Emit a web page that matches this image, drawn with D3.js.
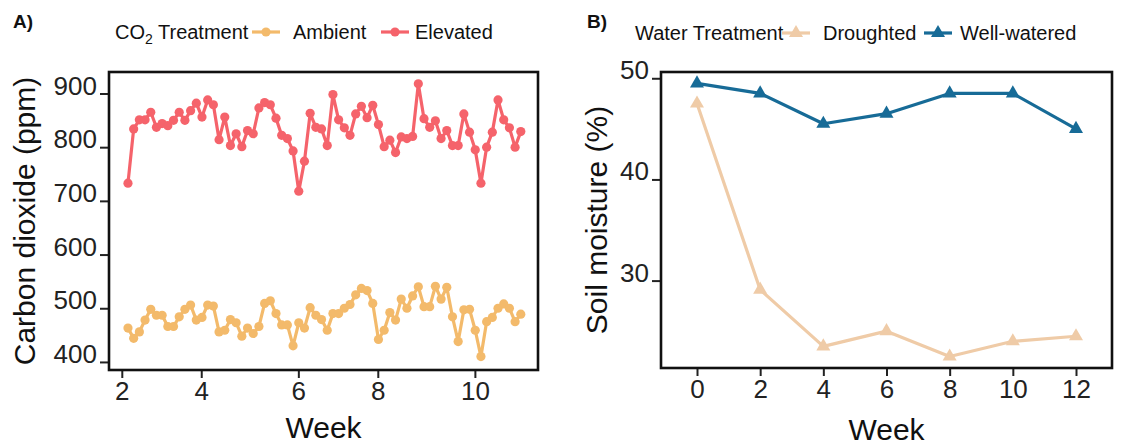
<!DOCTYPE html>
<html><head><meta charset="utf-8">
<script src="https://cdn.jsdelivr.net/npm/d3@7"></script>
<style>body{margin:0;background:#fff} svg{display:block} text{font-family:"Liberation Sans",Arial,Helvetica,sans-serif}</style>
</head><body><svg id="c" width="1139" height="448"></svg>
<script>
// ---------- Panel A data ----------
const co2SampleCount = 70;
const co2FirstWeek = 2.14, co2LastWeek = 11.04;
const ambient = [463,444,456,478,498,487,487,466,466,484,498,506,478,483,506,504,456,459,479,473,448,463,453,466,509,514,490,469,469,430,473,463,501,487,
  479,459,490,490,500,507,525,537,533,509,442,459,492,478,517,500,523,540,503,503,541,517,539,484,438,497,498,459,410,475,483,500,508,500,475,489];
const elevated = [733,834,851,851,865,837,844,840,850,865,850,868,882,856,888,879,814,856,803,825,801,831,825,873,883,879,854,822,816,793,718,774,863,837,
  834,803,898,851,836,822,862,876,855,878,842,801,813,790,819,816,820,918,853,837,849,816,831,803,803,862,828,795,733,800,828,888,851,836,800,829];
const co2Ticks = [400,500,600,700,800,900];
const weekTickPosA = [2,3.8,6,7.8,10];
const weekTickLabelsA = ["2","4","6","8","10"];
const co2Legend = ["Ambient","Elevated"];

// ---------- Panel B data ----------
const waterWeeks = [0,2,4,6,8,10,12];
const droughted = [47.5,29.1,23.5,25.0,22.5,24.0,24.5];
const wellWatered = [49.5,48.5,45.5,46.5,48.5,48.5,45.0];
const moistureTicks = [30,40,50];
const weekTicksB = [0,2,4,6,8,10,12];
const waterLegend = ["Droughted","Well-watered"];

const colAmbient = "#F3BA6B", colElevated = "#F5636B";
const colDrought = "#EFCBA7", colWell = "#176B97";

const co2Weeks = d3.range(co2SampleCount).map(i => co2FirstWeek + i*(co2LastWeek-co2FirstWeek)/(co2SampleCount-1));

const svg = d3.select("#c");
const tickFont = 26, titleFont = 30, legFont = 20;

function frame(g, P){
  g.append("rect").attr("x",P.l).attr("y",P.t).attr("width",P.r-P.l).attr("height",P.b-P.t)
   .attr("fill","none").attr("stroke","#111").attr("stroke-width",2.6);
}
function styleAxis(g){
  g.select(".domain").remove();
  g.selectAll(".tick line").attr("stroke","#222").attr("stroke-width",2);
  g.selectAll(".tick text").attr("fill","#222").attr("font-size",tickFont).attr("font-family","Liberation Sans, Arial, sans-serif");
}

// ================= Panel A =================
const A = {l:109, r:538, t:72, b:370};
const xA = d3.scaleLinear().domain([1.71, 11.43]).range([A.l, A.r]);
const yA = d3.scaleLinear().domain([385, 940]).range([A.b, A.t]);
const gA = svg.append("g");

const axYA = gA.append("g").attr("transform",`translate(${A.l-1},0)`)
  .call(d3.axisLeft(yA).tickValues(co2Ticks).tickSize(8).tickPadding(3));
styleAxis(axYA);
axYA.selectAll(".tick text").attr("dy","0.02em");
const axXA = gA.append("g").attr("transform",`translate(0,${A.b+1})`)
  .call(d3.axisBottom(xA).tickValues(weekTickPosA).tickFormat((d,i)=>weekTickLabelsA[i]).tickSize(7).tickPadding(4));
styleAxis(axXA);

const lineA = d3.line().x((d,i)=>xA(co2Weeks[i])).y(d=>yA(d));
[[ambient,colAmbient],[elevated,colElevated]].forEach(([s,c])=>{
  gA.append("path").datum(s).attr("d",lineA).attr("fill","none").attr("stroke",c).attr("stroke-width",3.2).attr("stroke-linejoin","round");
  gA.selectAll(null).data(s).join("circle").attr("cx",(d,i)=>xA(co2Weeks[i])).attr("cy",d=>yA(d)).attr("r",4.6).attr("fill",c);
});
frame(gA, A);

gA.append("text").attr("x",(A.l+A.r)/2).attr("y",438).attr("text-anchor","middle").attr("font-size",titleFont).attr("fill","#111").text("Week");
gA.append("text").attr("transform",`translate(35,${(A.t+A.b)/2}) rotate(-90)`).attr("text-anchor","middle").attr("font-size",titleFont).attr("fill","#111").text("Carbon dioxide (ppm)");
gA.append("text").attr("x",13).attr("y",28).attr("font-size",19).attr("font-weight","bold").attr("fill","#111").text("A)");

// legend A
const lgA = gA.append("g");
const tA = lgA.append("text").attr("x",115).attr("y",39).attr("font-size",legFont).attr("fill","#111");
tA.append("tspan").text("CO");
tA.append("tspan").attr("font-size",14).attr("dy",5).text("2");
tA.append("tspan").attr("dy",-5).text(" Treatment");
const legA = [[co2Legend[0],colAmbient,252,293],[co2Legend[1],colElevated,381,415]];
legA.forEach(([lab,c,x0,xt])=>{
  lgA.append("line").attr("x1",x0).attr("x2",x0+28).attr("y1",32).attr("y2",32).attr("stroke",c).attr("stroke-width",3.2);
  lgA.append("circle").attr("cx",x0+14).attr("cy",32).attr("r",4.6).attr("fill",c);
  lgA.append("text").attr("x",xt).attr("y",39).attr("font-size",legFont).attr("fill","#111").text(lab);
});

// ================= Panel B =================
const B = {l:661, r:1112, t:72, b:368};
const xB = d3.scaleLinear().domain([-1.14, 13.14]).range([B.l, B.r]);
const yB = d3.scaleLinear().domain([21.36, 50.62]).range([B.b, B.t]);
const gB = svg.append("g");

const axYB = gB.append("g").attr("transform",`translate(${B.l-1},0)`)
  .call(d3.axisLeft(yB).tickValues(moistureTicks).tickSize(8).tickPadding(3));
styleAxis(axYB);
axYB.selectAll(".tick text").attr("dy","0.02em");
const axXB = gB.append("g").attr("transform",`translate(0,${B.b+1})`)
  .call(d3.axisBottom(xB).tickValues(weekTicksB).tickFormat(d3.format("d")).tickSize(7).tickPadding(4));
styleAxis(axXB);

const tri = d3.symbol().type(d3.symbolTriangle).size(85);
const lineB = d3.line().x((d,i)=>xB(waterWeeks[i])).y(d=>yB(d));
[[droughted,colDrought],[wellWatered,colWell]].forEach(([s,c])=>{
  gB.append("path").datum(s).attr("d",lineB).attr("fill","none").attr("stroke",c).attr("stroke-width",3.2).attr("stroke-linejoin","round");
  gB.selectAll(null).data(s).join("path").attr("d",tri)
    .attr("transform",(d,i)=>`translate(${xB(waterWeeks[i])},${yB(d)})`).attr("fill",c);
});
frame(gB, B);

gB.append("text").attr("x",(B.l+B.r)/2).attr("y",440).attr("text-anchor","middle").attr("font-size",titleFont).attr("fill","#111").text("Week");
gB.append("text").attr("transform",`translate(607,${(B.t+B.b)/2}) rotate(-90)`).attr("text-anchor","middle").attr("font-size",titleFont).attr("fill","#111").text("Soil moisture (%)");
gB.append("text").attr("x",587).attr("y",28).attr("font-size",19).attr("font-weight","bold").attr("fill","#111").text("B)");

const lgB = gB.append("g");
lgB.append("text").attr("x",635).attr("y",40).attr("font-size",legFont).attr("fill","#111").text("Water Treatment");
const legB = [[waterLegend[0],colDrought,782,823],[waterLegend[1],colWell,924,960]];
legB.forEach(([lab,c,x0,xt])=>{
  lgB.append("line").attr("x1",x0).attr("x2",x0+28).attr("y1",33).attr("y2",33).attr("stroke",c).attr("stroke-width",3.2);
  lgB.append("path").attr("d",tri).attr("transform",`translate(${x0+14},33)`).attr("fill",c);
  lgB.append("text").attr("x",xt).attr("y",40).attr("font-size",legFont).attr("fill","#111").text(lab);
});
</script></body></html>
